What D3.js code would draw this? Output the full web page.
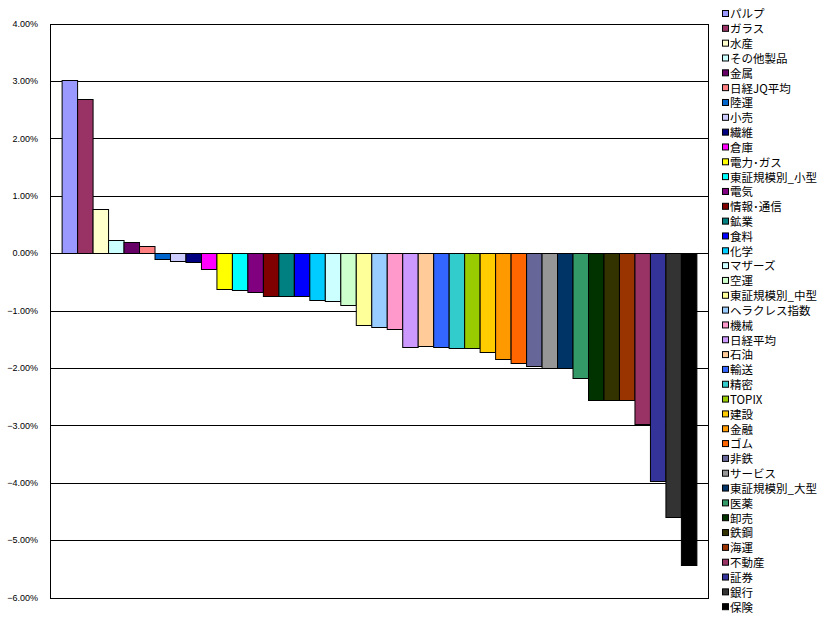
<!DOCTYPE html>
<html><head><meta charset="utf-8">
<script src="https://cdn.jsdelivr.net/npm/d3@7"></script>
<style>
body{margin:0;background:#fff;}
svg{display:block;}
</style></head>
<body>
<svg id="chart" width="832" height="621"></svg>
<script>
const categories = ["パルプ","ガラス","水産","その他製品","金属","日経JQ平均","陸運","小売","繊維","倉庫","電力･ガス","東証規模別_小型","電気","情報･通信","鉱業","食料","化学","マザーズ","空運","東証規模別_中型","ヘラクレス指数","機械","日経平均","石油","輸送","精密","TOPIX","建設","金融","ゴム","非鉄","サービス","東証規模別_大型","医薬","卸売","鉄鋼","海運","不動産","証券","銀行","保険"];
const values = [3.02,2.68,0.76,0.22,0.20,0.13,-0.10,-0.13,-0.16,-0.27,-0.63,-0.64,-0.68,-0.75,-0.74,-0.75,-0.82,-0.83,-0.91,-1.26,-1.28,-1.33,-1.63,-1.62,-1.64,-1.66,-1.65,-1.73,-1.85,-1.92,-1.96,-2.01,-2.00,-2.17,-2.56,-2.56,-2.56,-2.97,-3.97,-4.60,-5.44];
const colors = ["#9999FF","#993366","#FFFFCC","#CCFFFF","#660066","#FF8080","#0066CC","#CCCCFF","#000080","#FF00FF","#FFFF00","#00FFFF","#800080","#800000","#008080","#0000FF","#00CCFF","#CCFFFF","#CCFFCC","#FFFF99","#99CCFF","#FF99CC","#CC99FF","#FFCC99","#3366FF","#33CCCC","#99CC00","#FFCC00","#FF9900","#FF6600","#666699","#969696","#003366","#339966","#003300","#333300","#993300","#993366","#333399","#333333","#000000"];
const yTicks = [4,3,2,1,0,-1,-2,-3,-4,-5,-6];

const svg = d3.select("#chart");
const L = 50, R = 708, T = 23.5, B = 597.5;

const x = d3.scaleBand().domain(categories).range([L, R]).paddingInner(0).paddingOuter(0.75);
const y = d3.scaleLinear().domain([-6, 4]).range([B, T]);

// gridlines
svg.append("g").selectAll("line").data(yTicks).join("line")
  .attr("x1", L).attr("x2", R)
  .attr("y1", d => Math.round(y(d)) + 0.5).attr("y2", d => Math.round(y(d)) + 0.5)
  .attr("stroke", "#000").attr("stroke-width", 1);

// bars
svg.append("g").selectAll("rect").data(values).join("rect")
  .attr("x", (d, i) => x(categories[i]) + 0.5)
  .attr("width", x.bandwidth())
  .attr("y", d => Math.round(y(Math.max(0, d))) + 0.5)
  .attr("height", d => Math.abs(Math.round(y(d)) - Math.round(y(0))))
  .attr("fill", (d, i) => colors[i])
  .attr("stroke", "#000").attr("stroke-width", 1);

// plot border
svg.append("rect").attr("x", L + 0.5).attr("y", Math.round(T) + 0.5)
  .attr("width", R - L).attr("height", Math.round(B) - Math.round(T))
  .attr("fill", "none").attr("stroke", "#000");

// y axis
const yAxis = d3.axisLeft(y).tickValues(yTicks).tickSize(0).tickPadding(12)
  .tickFormat(d => d3.format(".2f")(d) + "%");
const ga = svg.append("g").attr("transform", `translate(${L},0)`).call(yAxis);
ga.select(".domain").remove();
ga.selectAll("text").attr("font-family", "Liberation Sans, Arial, sans-serif")
  .attr("font-size", 9).attr("fill", "#000");

// legend
const leg = svg.append("g").selectAll("g").data(categories).join("g")
  .attr("transform", (d, i) => `translate(722,${14 + i * 14.83})`);
leg.append("rect").attr("x", 0.5).attr("y", -3.5).attr("width", 6).attr("height", 6)
  .attr("fill", (d, i) => colors[i]).attr("stroke", "#000").attr("stroke-width", 1);
leg.append("text").attr("x", 8).attr("y", 0).attr("dy", "0.38em")
  .attr("font-family", "Noto Sans CJK JP, sans-serif").attr("font-size", 11.5)
  .attr("fill", "#000").text(d => d);
</script>
</body></html>
